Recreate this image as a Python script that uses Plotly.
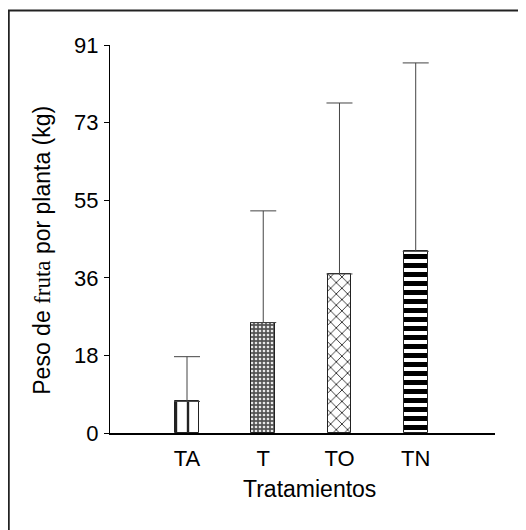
import plotly.graph_objects as go

categories = ["TA", "T", "TO", "TN"]
means = [7.4, 25.9, 37.3, 42.6]
err_plus = [10.5, 26.2, 40.1, 44.2]
tick_vals = [0, 18.2, 36.4, 54.6, 72.8, 91]
tick_text = ["0", "18", "36", "55", "73", "91"]

patterns = [
    dict(shape="|", size=12, solidity=0.2, fgcolor="#222", bgcolor="white", fgopacity=1, fillmode="overlay"),
    dict(shape=".", size=4, solidity=0.35, fgcolor="#e8e8e8", bgcolor="#555555", fgopacity=1, fillmode="overlay"),
    dict(shape="x", size=8, solidity=0.18, fgcolor="black", bgcolor="white", fgopacity=1, fillmode="overlay"),
    dict(shape="-", size=9, solidity=0.55, fgcolor="black", bgcolor="white", fgopacity=1, fillmode="overlay"),
]

fig = go.Figure()
for i, c in enumerate(categories):
    fig.add_trace(go.Bar(
        x=[i], y=[means[i]], width=0.31,
        marker=dict(color="white", line=dict(color="#222", width=1), pattern=patterns[i]),
        error_y=dict(type="data", symmetric=False, array=[err_plus[i]], arrayminus=[0],
                     color="#444", thickness=1, width=13),
        showlegend=False,
    ))

font = "Liberation Sans, Arial, sans-serif"
fig.update_layout(
    width=526, height=530,
    margin=dict(l=102, r=39, t=37, b=105),
    paper_bgcolor="white", plot_bgcolor="white",
    font=dict(family=font, color="black", size=20),
    xaxis=dict(range=[-1.01, 4.04], tickvals=list(range(len(categories))), ticktext=categories,
               showline=True, linecolor="black", linewidth=1.5, showgrid=False, zeroline=False,
               ticks="", ticklabelstandoff=5, tickfont=dict(size=22)),
    yaxis=dict(range=[0, 91], tickvals=tick_vals, ticktext=tick_text,
               showline=True, linecolor="black", linewidth=1, showgrid=False, zeroline=False,
               ticks="outside", ticklen=5, tickcolor="black", ticklabelstandoff=1,
               tickfont=dict(size=22)),
    bargap=0,
)
fig.add_annotation(xref="paper", yref="paper", x=0.519, y=-0.1445, yanchor="middle", xanchor="center",
                   text="Tratamientos", showarrow=False, font=dict(size=23))
fig.add_annotation(xref="paper", yref="paper", x=-0.177, y=0.472, xanchor="center", yanchor="middle",
                   textangle=-90, showarrow=False, font=dict(size=23),
                   text='Peso de <span style="font-family:Liberation Serif, Times New Roman, serif">fruta</span> por planta (kg)')
fig.add_shape(type="rect", xref="paper", yref="paper", x0=-0.263, y0=-0.35, x1=1.2, y1=1.089,
              line=dict(color="#222", width=2), fillcolor="rgba(0,0,0,0)", layer="below")
fig.write_html("out.html")
